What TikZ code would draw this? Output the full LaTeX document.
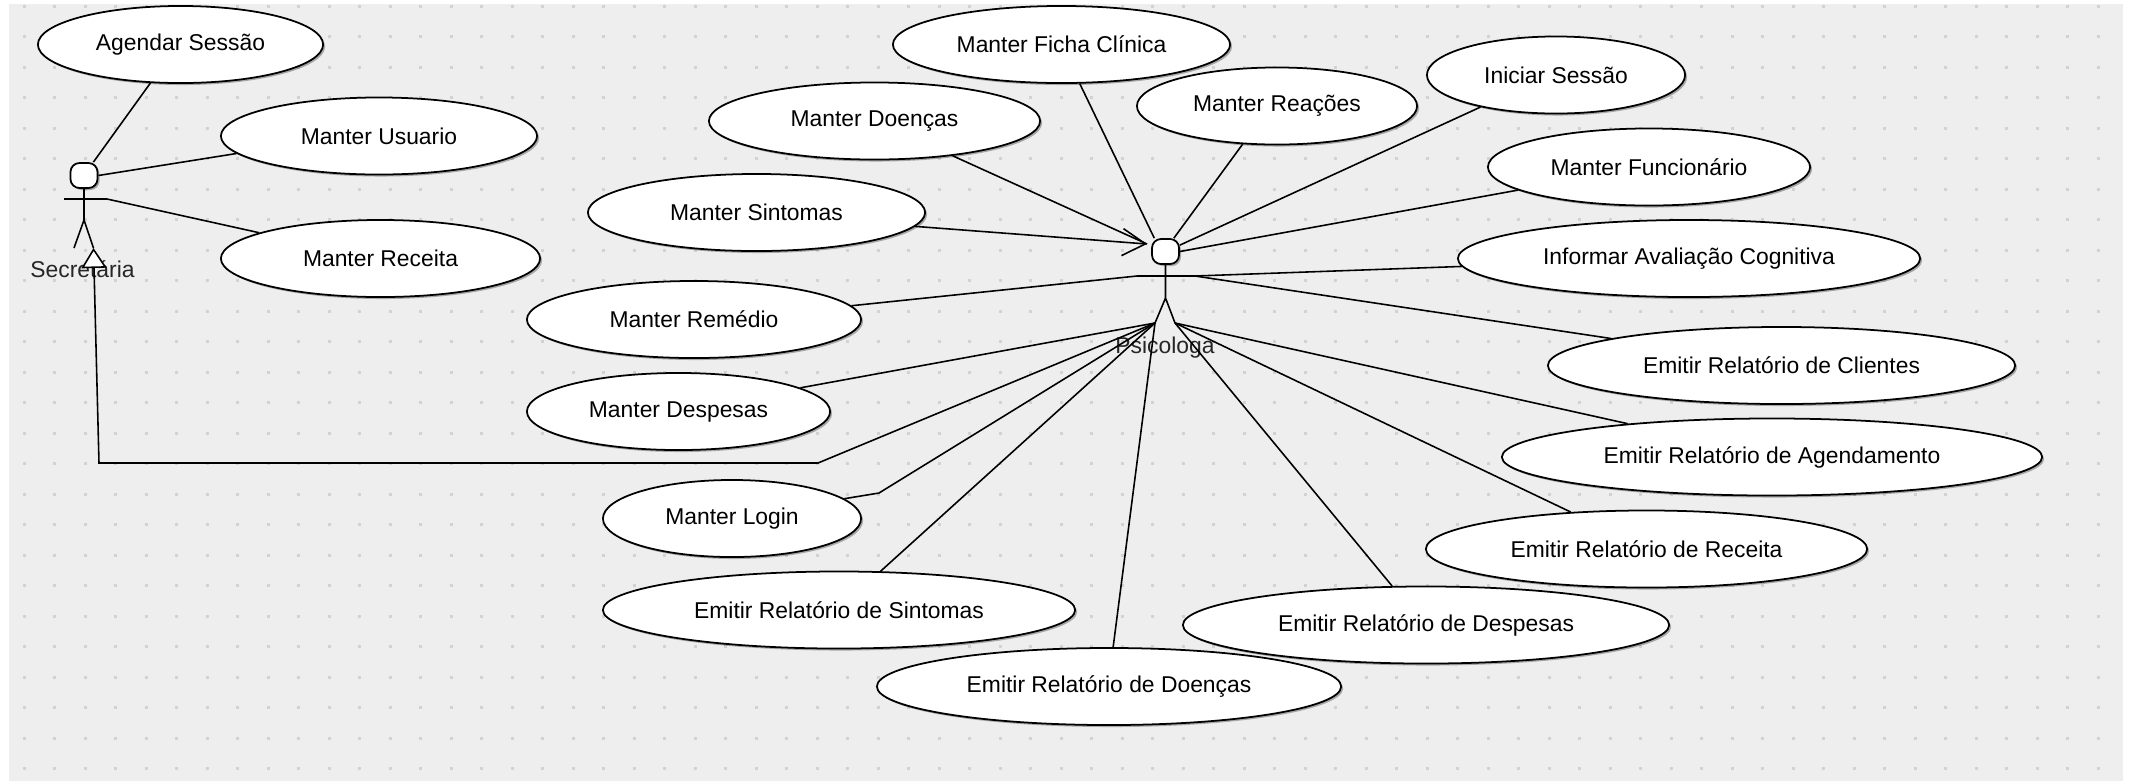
\documentclass[tikz,border=0pt]{standalone}
\usepackage{fontspec}
\setmainfont{Liberation Sans}
\usetikzlibrary{arrows.meta,shapes.geometric,shadows}
\definecolor{canvas}{HTML}{EEEEEE}
\definecolor{griddot}{HTML}{D2D2D2}

\begin{document}
\begin{tikzpicture}[
  x=0.01cm, y=-0.01cm,
  every node/.style = {font=\fontsize{6.5}{8}\selectfont, inner sep=0pt},
  usecase/.style = {shape=ellipse, draw, fill=white, line width=.5pt, minimum height=.77cm,
    drop shadow={shadow xshift=.02cm, shadow yshift=-.02cm, opacity=.3, fill=black}},
  actorhead/.style = {shape=rectangle, draw, fill=white, line width=.5pt, rounded corners=.09cm,
    minimum width=.27cm, minimum height=.25cm,
    drop shadow={shadow xshift=.02cm, shadow yshift=-.02cm, opacity=.3, fill=black}},
  actorname/.style = {text=black!85},
  assoc/.style = {line width=.45pt},
  navigable/.style = {assoc, -{Straight Barb[length=.23cm, width=.27cm]}},
  inherits/.style = {assoc, -{Triangle[open, fill=white, length=.2cm, width=.25cm]}}
    ]
  \useasboundingbox (0,0) rectangle (2131,781);
  \fill[canvas] (9,4) rectangle (2123,781);
  \foreach \col in {0,...,68}
    \foreach \row in {0,...,25}
      \fill[griddot] (22.5+30.5*\col,4.5+30.5*\row) rectangle +(3,3);

  % use cases
  \node[usecase, minimum width=2.85cm] (agendar) at (180.5,44.5) {Agendar Sessão};
  \node[usecase, minimum width=3.16cm] (usuario) at (379,136) {Manter Usuario};
  \node[usecase, minimum width=3.19cm] (receita) at (380.5,258.5) {Manter Receita};
  \node[usecase, minimum width=3.37cm] (ficha) at (1061.5,44.5) {Manter Ficha Clínica};
  \node[usecase, minimum width=3.31cm] (doencas) at (874.5,121) {Manter Doenças};
  \node[usecase, minimum width=2.80cm] (reacoes) at (1277,106) {Manter Reações};
  \node[usecase, minimum width=2.58cm] (iniciar) at (1556,75) {Iniciar Sessão};
  \node[usecase, minimum width=3.22cm] (funcionario) at (1649,167) {Manter Funcionário};
  \node[usecase, minimum width=3.37cm] (sintomas) at (756.5,212.5) {Manter Sintomas};
  \node[usecase, minimum width=4.62cm] (avaliacao) at (1689,258.5) {Informar Avaliação Cognitiva};
  \node[usecase, minimum width=3.34cm] (remedio) at (694,319.5) {Manter Remédio};
  \node[usecase, minimum width=3.03cm] (despesas) at (678.5,411.5) {Manter Despesas};
  \node[usecase, minimum width=2.58cm] (login) at (732,518.5) {Manter Login};
  \node[usecase, minimum width=4.67cm] (relclientes) at (1781.5,365.5) {Emitir Relatório de Clientes};
  \node[usecase, minimum width=5.40cm] (relagenda) at (1772,457) {Emitir Relatório de Agendamento};
  \node[usecase, minimum width=4.41cm] (relreceita) at (1646.5,549) {Emitir Relatório de Receita};
  \node[usecase, minimum width=4.64cm] (reldoencas) at (1109,686.5) {Emitir Relatório de Doenças};
  \node[usecase, minimum width=4.86cm] (reldespesas) at (1426,625) {Emitir Relatório de Despesas};
  \node[usecase, minimum width=4.72cm] (relsintomas) at (839,610) {Emitir Relatório de Sintomas};

  % actors
  \node[actorhead] (sechead) at (84,175.5) {};
  \coordinate (sechandl) at (64,199);
  \coordinate (sechandr) at (107,199);
  \coordinate (sechip) at (84,220);
  \coordinate (secfootl) at (74,248);
  \coordinate (secfootr) at (93.5,248);
  \node[actorname] (secretaria) at (82.5,269) {Secretária};
  \draw[assoc] (sechead.south) -- (sechip) -- (secfootl) (sechip) -- (secfootr) (sechandl) -- (sechandr);

  \node[actorhead] (psihead) at (1165.5,251.5) {};
  \coordinate (psihandl) at (1137,276);
  \coordinate (psihandr) at (1195,276);
  \coordinate (psihip) at (1165.5,298);
  \coordinate (psifootl) at (1155,323);
  \coordinate (psifootr) at (1175,323);
  \coordinate (psitip) at (1147,244);
  \node[actorname] (psicologa) at (1165,347.5) {Psicologa};
  \draw[assoc] (psihead.south) -- (psihip) -- (psifootl) (psihip) -- (psifootr) (psihandl) -- (psihandr);

  % secretaria links
  \draw[assoc] (agendar.232) -- (sechead.55);
  \draw[assoc] (usuario.187.2) -- (sechead.east);
  \draw[assoc] (receita.168) -- (sechandr);

  % psicologa links
  \draw[assoc] (ficha.295) -- (psihead.130);
  \draw[assoc] (reacoes.228.5) -- (psihead.58);
  \draw[assoc] (iniciar.203.5) -- (psihead.24);
  \draw[assoc] (funcionario.190) -- (psihead.east);
  \draw[assoc] (doencas.336) -- (psitip);
  \draw[navigable] (sintomas.355.6) -- (psitip);
  \draw[assoc] (avaliacao.182) -- (psihandr);
  \draw[assoc] (relclientes.171.6) -- (psihandr);
  \draw[assoc] (remedio.5.7) -- (psihandl);
  \draw[assoc] (despesas.11.2) -- (psifootl);
  \draw[assoc] (login.10.8) -- (879,493) -- (psifootl);
  \draw[assoc] (relsintomas.43.6) -- (psifootl);
  \draw[assoc] (reldoencas.84) -- (psifootl);
  \draw[assoc] (reldespesas.131.8) -- (psifootr);
  \draw[assoc] (relreceita.154.8) -- (psifootr);
  \draw[assoc] (relagenda.167.7) -- (psifootr);

  % psicologa is a secretaria
  \draw[inherits] (psifootl) -- (818,463) -- (99,463) -- (secfootr);
\end{tikzpicture}
\end{document}
